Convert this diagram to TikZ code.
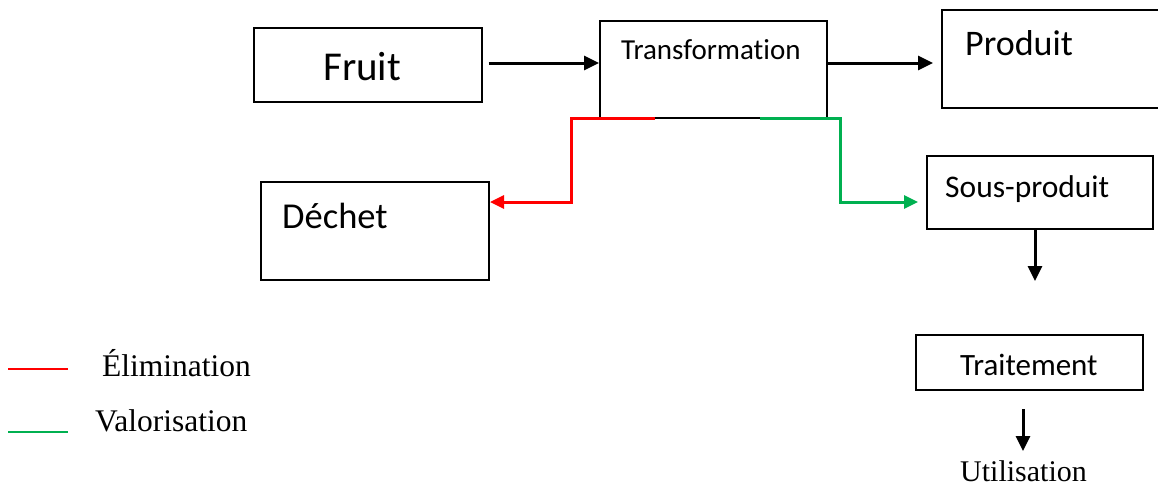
\documentclass[tikz,border=0pt]{standalone}
\usepackage{fontspec}
\setmainfont{Liberation Serif}
\newfontfamily\carlitofont[Ligatures=NoCommon]{Carlito}
\usetikzlibrary{arrows.meta,calc}
\definecolor{offred}{RGB}{255,0,0}
\definecolor{offgreen}{RGB}{0,176,80}
\tikzset{
  box/.style={draw=black,line width=2pt,inner sep=0pt},
  lbl/.style={anchor=base west,inner sep=0pt},
  arr/.style={line width=3pt,-{Triangle[length=15pt,width=14pt]}},
  elim/.style={draw=offred,line width=3pt},
  valo/.style={draw=offgreen,line width=3pt},
}
\begin{document}
\begin{tikzpicture}[x=1pt,y=-1pt]
\useasboundingbox (0,0) rectangle (1158,488);
% boxes
\node[box,minimum width=228pt,minimum height=74pt] (fruit) at (367.5,65) {};
\node[box,minimum width=227pt,minimum height=97pt] (trans) at (713.5,69.5) {};
\node[box,minimum width=230pt,minimum height=98pt] (prod) at (1057,59) {};
\node[box,minimum width=228pt,minimum height=98pt] (dechet) at (375,231) {};
\node[box,minimum width=226pt,minimum height=73pt] (sous) at (1040,192.5) {};
\node[box,minimum width=227pt,minimum height=55pt] (trait) at (1029.5,362.5) {};
% texts
\node[lbl,font={\carlitofont\fontsize{41}{41}\selectfont}] at (323,80) {Fruit};
\node[lbl,font={\carlitofont\fontsize{29}{29}\selectfont}] at (621,59) {Transformation};
\node[lbl,font={\carlitofont\fontsize{36}{36}\selectfont}] at (965,55) {Produit};
\node[lbl,font={\carlitofont\fontsize{36.5}{36.5}\selectfont}] at (282,228) {Déchet};
\node[lbl,font={\carlitofont\fontsize{31.5}{31.5}\selectfont}] at (945,197) {Sous-produit};
\node[lbl,font={\carlitofont\fontsize{31}{31}\selectfont}] at (960,375) {Traitement};
\node[lbl,font={\fontsize{30}{30}\selectfont}] (util) at (960,481) {Utilisation};
% black arrows
\draw[arr] (fruit.east |- 0,63) ++(6,0) -- (trans.west |- 0,63);
\draw[arr] (trans.east |- 0,63) -- ++(105,0);
\coordinate (a1) at (1035,281);
\draw[arr] (sous.south -| a1) -- (a1);
\coordinate (u0) at (1023,409);
\coordinate (u1) at (1023,451);
\draw[arr] (u0) -- (u1);
% red and green connectors
\coordinate (r0) at (655,118);
\coordinate (g0) at (760,118);
\draw[elim,-{Triangle[length=14pt,width=13pt]}] (r0) -- (571,118) -- (571,202) -- (dechet.east |- 0,202);
\draw[valo,-{Triangle[length=14pt,width=13pt]}] (g0) -- (840,118) -- (840,202) -- (918,202);
% legend
\coordinate (l1) at (8,369);
\coordinate (l2) at (8,432);
\draw[draw=offred,line width=2pt] (l1) -- ++(60,0);
\draw[draw=offgreen,line width=2pt] (l2) -- ++(60,0);
\node[lbl,font={\fontsize{31.5}{31.5}\selectfont}] at (102,376) {Élimination};
\node[lbl,font={\fontsize{31.5}{31.5}\selectfont}] at (95,431) {Valorisation};
\end{tikzpicture}
\end{document}
